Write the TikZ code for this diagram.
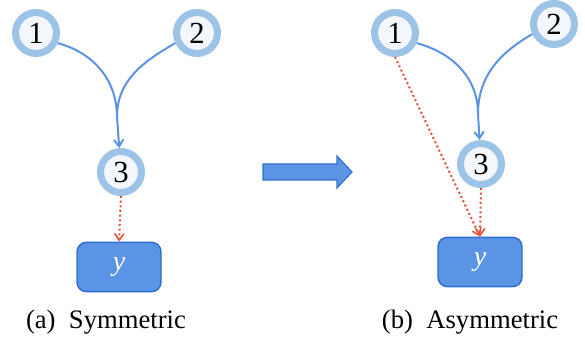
\documentclass[tikz,border=0pt]{standalone}
\usepackage{fontspec}
\setmainfont{Liberation Serif}
\usetikzlibrary{positioning,arrows.meta}
\definecolor{ringblue}{HTML}{9DC3E6}
\definecolor{corefill}{HTML}{F3F7FC}
\definecolor{linkblue}{HTML}{5B93E4}
\definecolor{boxblue}{HTML}{5B93E5}
\definecolor{boxedge}{HTML}{2F6ECF}
\definecolor{depred}{HTML}{E8503A}
\tikzset{
  >={Straight Barb[length=5pt,width=7pt]},
  my ring/.style={
    circle,
    draw=ringblue,
    fill=corefill,
    line width=5.25pt,
    minimum size=30.75pt,
    inner sep=0pt,
    font=\fontsize{23}{23}\selectfont
  },
  my target/.style={
    rectangle,
    rounded corners=2.5mm,
    draw=boxedge,
    fill=boxblue,
    line width=1.1pt,
    minimum width=63pt,
    minimum height=37pt,
    text=white,
    font=\fontsize{21}{21}\selectfont\itshape
  },
  my link/.style={draw=linkblue,line width=1.5pt},
  my dep/.style={draw=depred,line width=1.5pt,dotted,
    -{Straight Barb[length=5pt,width=7pt,line width=1.2pt,sep=0pt]}},
  my caption/.style={font=\fontsize{20}{20}\selectfont}
}
\begin{document}
\begin{tikzpicture}[x=0.75pt,y=0.75pt]
\useasboundingbox (0,0) rectangle (585,339);
% (a) symmetric
\node[my ring]   (1a) at (36,306)  {1};
\node[my ring]   (2a) at (197,306) {2};
\node[my ring]   (3a) at (121,167) {3};
\node[my target] (ya) at (119,72)  {y};
\coordinate (ma) at (117,222);
\path[my link] (1a.-25)  edge[out=-15,in=90]  (ma)
               (2a.-155) edge[out=-150,in=90] (ma)
               (ma)      edge[->]             (3a);
\draw[my dep] (3a.south) -- (ya.north);
\node[my caption] (capa) at (106,17) {(a)\ \ Symmetric};
% block arrow
\fill[boxblue,draw=boxedge,line width=0.8pt]
  (263,159) -- (337,159) -- (337,151) -- (352,167)
  -- (337,183) -- (337,175) -- (263,175) -- cycle;
% (b) asymmetric
\node[my ring]   (1b) at (395,306) {1};
\node[my ring]   (2b) at (554,315) {2};
\node[my ring]   (3b) at (481,175) {3};
\node[my target] (yb) at (480,77)  {y};
\coordinate (mb) at (478,225);
\path[my link] (1b.-25)  edge[out=-15,in=90]  (mb)
               (2b.-155) edge[out=-150,in=90] (mb)
               (mb)      edge[->]             (3b);
\draw[my dep] (1b.south) -- (yb.north);
\draw[my dep] (3b.south) -- (yb.north);
\node[my caption] (capb) at (470,17) {(b)\ \ Asymmetric};
\end{tikzpicture}
\end{document}
